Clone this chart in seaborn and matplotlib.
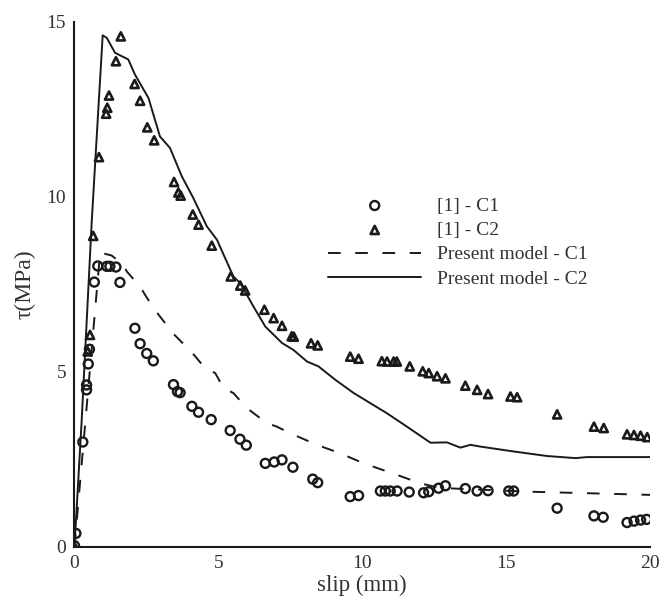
import matplotlib
matplotlib.use("Agg")
import matplotlib.pyplot as plt
import seaborn as sns
import pandas as pd

# Experimental bond stress-slip data, specimen C1
c1_slip = [0.0, 0.05, 0.29, 0.42, 0.42, 0.48, 0.52, 0.69, 0.81, 1.12, 1.23, 1.44, 1.58,
           2.10, 2.28, 2.51, 2.74, 3.44, 3.58, 3.67, 4.08, 4.31, 4.75, 5.41, 5.75, 5.97,
           6.63, 6.94, 7.21, 7.59, 8.28, 8.45, 9.58, 9.87, 10.63, 10.80, 10.97, 11.21,
           11.63, 12.13, 12.31, 12.65, 12.89, 13.58, 13.99, 14.37, 15.09, 15.26, 16.77,
           18.05, 18.37, 19.20, 19.44, 19.67, 19.88]
c1_tau = [0.03, 0.38, 2.99, 4.48, 4.62, 5.22, 5.64, 7.56, 8.02, 8.01, 8.01, 7.99, 7.55,
          6.24, 5.80, 5.52, 5.31, 4.63, 4.43, 4.40, 4.01, 3.84, 3.63, 3.32, 3.07, 2.90,
          2.38, 2.42, 2.48, 2.27, 1.93, 1.83, 1.43, 1.46, 1.59, 1.59, 1.59, 1.59,
          1.56, 1.54, 1.57, 1.67, 1.74, 1.66, 1.59, 1.60, 1.59, 1.59, 1.10,
          0.88, 0.84, 0.69, 0.73, 0.76, 0.78]

# Experimental bond stress-slip data, specimen C2
c2_slip = [0.0, 0.46, 0.54, 0.65, 0.85, 1.10, 1.14, 1.20, 1.44, 1.61, 2.09, 2.28, 2.53,
           2.77, 3.46, 3.61, 3.69, 4.11, 4.31, 4.77, 5.43, 5.76, 5.93, 6.60, 6.92, 7.21,
           7.55, 7.62, 8.22, 8.45, 9.58, 9.87, 10.68, 10.86, 11.09, 11.20, 11.65, 12.10,
           12.31, 12.60, 12.89, 13.58, 13.99, 14.37, 15.15, 15.38, 16.77, 18.05, 18.39,
           19.20, 19.44, 19.67, 19.90]
c2_tau = [0.0, 5.58, 6.05, 8.88, 11.13, 12.37, 12.54, 12.89, 13.87, 14.58, 13.22, 12.74,
          11.98, 11.61, 10.42, 10.12, 10.03, 9.49, 9.20, 8.60, 7.72, 7.46, 7.32, 6.77,
          6.53, 6.31, 6.01, 6.00, 5.81, 5.75, 5.43, 5.37, 5.30, 5.29, 5.29, 5.29, 5.15,
          5.01, 4.96, 4.87, 4.81, 4.60, 4.48, 4.36, 4.29, 4.27, 3.78, 3.43, 3.39,
          3.21, 3.19, 3.17, 3.13]

# Present model prediction, C1
m1_slip = [0.0, 0.89, 1.29, 1.70, 1.82, 2.28, 2.45, 2.74, 3.44, 4.08, 4.54, 4.89, 5.18,
           5.52, 5.99, 6.68, 7.03, 7.50, 8.42, 9.23, 10.05, 11.21, 12.02, 12.48, 12.94,
           15.84, 20.0]
m1_tau = [0.0, 8.40, 8.32, 8.05, 7.86, 7.43, 7.20, 6.82, 6.08, 5.55, 5.10, 4.96, 4.53,
          4.39, 3.96, 3.53, 3.43, 3.24, 2.91, 2.67, 2.38, 2.05, 1.81, 1.72, 1.67,
          1.57, 1.48]

# Present model prediction, C2
m2_slip = [0.0, 0.25, 0.60, 0.98, 1.12, 1.41, 1.70, 1.87, 2.10, 2.57, 2.97, 3.32, 3.73,
           4.13, 4.60, 4.95, 5.52, 5.76, 6.22, 6.63, 7.21, 7.61, 8.08, 8.48, 9.06, 9.70,
           10.28, 10.86, 11.55, 12.37, 12.94, 13.41, 13.76, 14.10, 15.26, 16.42, 17.41,
           17.81, 20.0]
m2_tau = [0.0, 3.60, 9.30, 14.61, 14.54, 14.11, 13.99, 13.92, 13.49, 12.82, 11.72, 11.39,
          10.58, 9.96, 9.15, 8.77, 7.72, 7.53, 6.86, 6.29, 5.82, 5.62, 5.29, 5.15, 4.77,
          4.39, 4.10, 3.81, 3.43, 2.97, 2.98, 2.83, 2.91, 2.86, 2.72, 2.59, 2.53,
          2.56, 2.56]

labels = ["[1] - C1", "[1] - C2", "Present model - C1", "Present model - C2"]
x_ticks = [0, 5, 10, 15, 20]
y_ticks = [0, 5, 10, 15]

sns.set_theme(style="white")
plt.rcParams["font.family"] = ["Liberation Serif", "DejaVu Serif"]

exp1 = pd.DataFrame({"slip": c1_slip, "tau": c1_tau})
exp2 = pd.DataFrame({"slip": c2_slip, "tau": c2_tau})
mod1 = pd.DataFrame({"slip": m1_slip, "tau": m1_tau})
mod2 = pd.DataFrame({"slip": m2_slip, "tau": m2_tau})

fig = plt.figure(figsize=(6.62, 5.97), dpi=100)
ax = fig.add_axes([0.1125, 0.0843, 0.8695, 0.8794])

ink = "#1a1a1a"
text_ink = "#333333"
sns.lineplot(data=mod1, x="slip", y="tau", ax=ax, color=ink, lw=1.4,
             linestyle=(0, (6.5, 7.5)), estimator=None, sort=False,
             label=labels[2], zorder=2)
sns.lineplot(data=mod2, x="slip", y="tau", ax=ax, color=ink, lw=1.4,
             estimator=None, sort=False, label=labels[3], zorder=2)
sns.scatterplot(data=exp1, x="slip", y="tau", ax=ax, marker="o", s=42,
                facecolor="none", edgecolor=ink, linewidth=1.7,
                label=labels[0], zorder=3)
sns.scatterplot(data=exp2, x="slip", y="tau", ax=ax, marker="^", s=34,
                facecolor="none", edgecolor=ink, linewidth=1.9,
                label=labels[1], zorder=3)

ax.set_xlim(0, 20)
ax.set_ylim(0, 15)
ax.set_xticks(x_ticks)
ax.set_yticks(y_ticks)
ax.set_xticklabels([str(t) for t in x_ticks])
ax.set_yticklabels([str(t) for t in y_ticks])
ax.tick_params(direction="in", length=9.5, width=1.5, color=ink,
               labelsize=14, labelcolor=text_ink, pad=6)
for side in ("top", "right"):
    ax.spines[side].set_visible(False)
for side in ("left", "bottom"):
    ax.spines[side].set_linewidth(1.5)
    ax.spines[side].set_color(ink)

ax.set_xlabel("slip (mm)", fontsize=16.5, color=text_ink, labelpad=2)
ax.set_ylabel("τ(MPa)", fontsize=17, color=text_ink, labelpad=8)

handles, hlabels = ax.get_legend_handles_labels()
order = [hlabels.index(l) for l in labels]
ax.legend([handles[i] for i in order], [hlabels[i] for i in order],
          loc="upper left", bbox_to_anchor=(0.4405, 0.666), frameon=False,
          fontsize=14, handlelength=4.8, handletextpad=0.8, labelspacing=0.35,
          borderpad=0, borderaxespad=0, scatterpoints=1, labelcolor=text_ink)

fig.savefig("out.png", dpi=100)
